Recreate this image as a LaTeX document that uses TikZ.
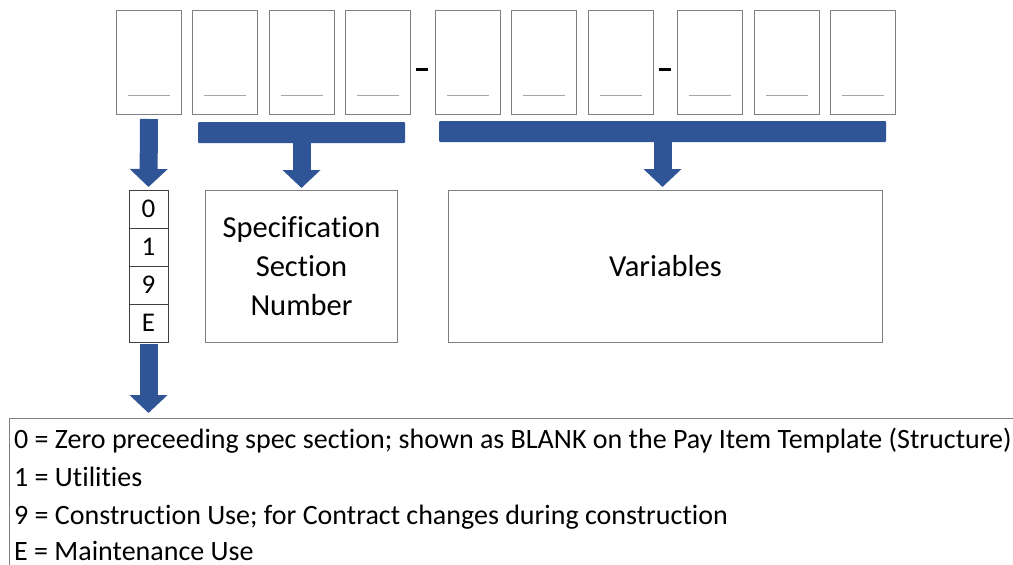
\documentclass[tikz,border=0pt]{standalone}
\usepackage{fontspec}
\setmainfont{Carlito}[Ligatures={NoCommon,NoContextual}]
\usetikzlibrary{positioning,arrows.meta}
\definecolor{barblue}{HTML}{2F5597}
\definecolor{boxgray}{HTML}{7F7F7F}
\definecolor{linegray}{HTML}{A6A6A6}
\tikzset{
  slot/.style={draw=boxgray,line width=1pt,minimum width=65pt,minimum height=104pt,inner sep=0pt},
  blank/.style={draw=linegray,line width=1pt},
  hyphen/.style={line width=3pt},
  bar/.style={fill=barblue,inner sep=0pt,minimum height=21pt,rounded corners=1pt},
  fatarrow/.style={draw=barblue,line width=18pt,-{Triangle[width=37pt,length=18pt]}},
  cell/.style={draw=black!75,line width=0.8pt,outer sep=0pt,inner sep=0pt,minimum width=39pt,minimum height=38pt,font=\fontsize{27}{30}\selectfont},
  infobox/.style={draw=boxgray,line width=1pt,inner sep=0pt,minimum height=152pt,align=center,font=\fontsize{30.5}{39}\selectfont},
  listline/.style={anchor=base west,inner sep=0pt,font=\fontsize{28}{32}\selectfont}
}
\begin{document}
\begin{tikzpicture}[x=1pt,y=-1pt]
\useasboundingbox (0,0) rectangle (1013,565);
% code slots
\foreach \x [count=\i] in {116,192,269,345,435,511,588,677,754,830}{
  \node[slot,anchor=north west] (b\i) at (\x,10) {};
  \draw[blank] ([xshift=12pt,yshift=20pt]b\i.south west) -- ([xshift=-12pt,yshift=20pt]b\i.south east);
}
\draw[hyphen] (416,69) -- (428,69);
\draw[hyphen] (659,69) -- (671,69);
% brackets
\node[bar,minimum width=207pt] (specbar) at (301.5,132.5) {};
\node[bar,minimum width=447pt] (varbar) at (662.5,131.5) {};
% first digit choices
\node[cell,anchor=north west] (d0) at (129,190) {0};
\node[cell,below=0pt of d0] (d1) {1};
\node[cell,below=0pt of d1] (d9) {9};
\node[cell,below=0pt of d9] (dE) {E};
\node[infobox,minimum width=192pt,anchor=north west] (spec) at (205,190) {Specification\\Section\\Number};
\node[infobox,minimum width=434pt,anchor=north west] (vars) at (448,190) {Variables};
% arrows
\draw[fatarrow] ([yshift=-4pt]b1.south) -- ([yshift=3pt]d0.north);
\draw[fatarrow] (specbar.south) -- ([yshift=2pt]specbar.south |- spec.north);
\draw[fatarrow] (varbar.south) -- ([yshift=3pt]varbar.south |- vars.north);
\coordinate (legendtop) at (148.5,413);
\draw[fatarrow] ([yshift=-2pt]dE.south) -- (legendtop);
% legend
\draw[draw=boxgray,line width=1pt] (9,418) rectangle (1040,600);
\node[listline] (l0) at (14,448) {0 = Zero preceeding spec section; shown as BLANK on the Pay Item Template (Structure)};
\node[listline] (l1) at (14,486) {1 = Utilities};
\node[listline] (l9) at (14,524) {9 = Construction Use; for Contract changes during construction};
\node[listline] (lE) at (14,560) {E = Maintenance Use};
\end{tikzpicture}
\end{document}
